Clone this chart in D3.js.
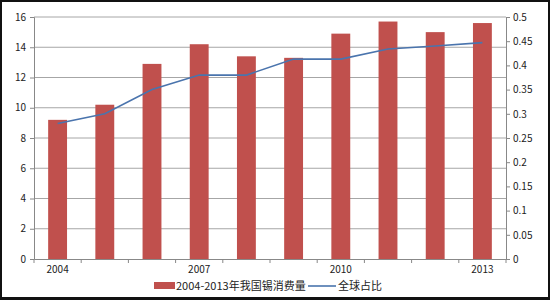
<!DOCTYPE html>
<html>
<head>
<meta charset="utf-8">
<script src="https://cdn.jsdelivr.net/npm/d3@7"></script>
<style>
  body { margin: 0; background: #fff; }
  text { font-family: "Noto Sans CJK SC", "DejaVu Sans", sans-serif; fill: #222; }
</style>
</head>
<body>
<script>
let years = ['2004', '2005', '2006', '2007', '2008', '2009', '2010', '2011', '2012', '2013'];
let consumption = [9.2, 10.2, 12.9, 14.2, 13.4, 13.3, 14.9, 15.7, 15.0, 15.6];
let share = [0.28, 0.30, 0.35, 0.38, 0.38, 0.413, 0.413, 0.434, 0.44, 0.447];
let leftTicks = [0, 2, 4, 6, 8, 10, 12, 14, 16];
let rightTicks = [0, 0.05, 0.1, 0.15, 0.2, 0.25, 0.3, 0.35, 0.4, 0.45, 0.5];
let xLabels = ['2004', '2007', '2010', '2013'];
let barName = '2004-2013年我国锡消费量';
let lineName = '全球占比';

let width = 550;
let height = 300;
let margin = {left: 34, right: 44, top: 17, bottom: 41};

let svg = d3.select('body').append('svg')
    .attr('width', width)
    .attr('height', height);

// frame
svg.append('rect')
    .attr('x', 1).attr('y', 1)
    .attr('width', width - 2).attr('height', height - 2.5)
    .attr('fill', '#fff')
    .attr('stroke', '#111')
    .attr('stroke-width', 2);
svg.append('line')
    .attr('x1', 0).attr('x2', width)
    .attr('y1', height - 1.5).attr('y2', height - 1.5)
    .attr('stroke', '#111')
    .attr('stroke-width', 3);

let x = d3.scaleBand()
    .domain(years)
    .range([margin.left, width - margin.right])
    .paddingInner(0.6)
    .paddingOuter(0.3);

let yLeft = d3.scaleLinear()
    .domain([0, 16])
    .range([height - margin.bottom, margin.top]);

let yRight = d3.scaleLinear()
    .domain([0, 0.5])
    .range([height - margin.bottom, margin.top]);

// gridlines
svg.selectAll('.grid')
    .data(leftTicks.slice(1))
    .join('line')
    .attr('class', 'grid')
    .attr('x1', margin.left)
    .attr('x2', width - margin.right)
    .attr('y1', d => yLeft(d))
    .attr('y2', d => yLeft(d))
    .attr('stroke', '#a6a6a6')
    .attr('stroke-width', 1);

// bars
svg.selectAll('.bar')
    .data(years)
    .join('rect')
    .attr('class', 'bar')
    .attr('x', d => x(d))
    .attr('width', x.bandwidth())
    .attr('y', (d, i) => yLeft(consumption[i]))
    .attr('height', (d, i) => yLeft(0) - yLeft(consumption[i]))
    .attr('fill', '#c0504d');

// line
let line = d3.line()
    .x((d, i) => x(years[i]) + x.bandwidth() / 2)
    .y(d => yRight(d));

svg.append('path')
    .datum(share)
    .attr('d', line)
    .attr('fill', 'none')
    .attr('stroke', '#4a74ad')
    .attr('stroke-width', 1.6);

// left axis
let leftAxis = svg.append('g')
    .attr('transform', `translate(${margin.left},0)`)
    .call(d3.axisLeft(yLeft).tickValues(leftTicks).tickSize(4).tickPadding(4));

// right axis
let rightAxis = svg.append('g')
    .attr('transform', `translate(${width - margin.right},0)`)
    .call(d3.axisRight(yRight).tickValues(rightTicks).tickSize(4).tickPadding(3)
        .tickFormat(d => d3.format('~g')(d)));

// bottom axis
let step = x.step();
let bottomAxis = svg.append('g')
    .attr('transform', `translate(0,${height - margin.bottom})`)
    .call(d3.axisBottom(x).tickSize(0).tickPadding(7)
        .tickFormat(d => xLabels.includes(d) ? d : ''));

bottomAxis.selectAll('.catTick')
    .data(d3.range(years.length + 1))
    .join('line')
    .attr('class', 'catTick')
    .attr('x1', i => margin.left + i * step)
    .attr('x2', i => margin.left + i * step)
    .attr('y1', 0)
    .attr('y2', 4)
    .attr('stroke', '#888');

[leftAxis, rightAxis, bottomAxis].forEach(g => {
    g.selectAll('.domain').attr('stroke', '#888');
    g.selectAll('.tick line').attr('stroke', '#888');
    g.selectAll('text')
        .style('font-family', '"Noto Sans CJK SC", "DejaVu Sans", sans-serif')
        .style('font-size', '10px')
        .attr('fill', '#222');
});

// legend
let legend = svg.append('g').attr('transform', 'translate(154,286)');
legend.append('rect')
    .attr('x', 0).attr('y', -4)
    .attr('width', 21).attr('height', 7)
    .attr('fill', '#c0504d');
legend.append('text')
    .attr('x', 22).attr('y', 0)
    .attr('dy', '0.35em')
    .style('font-size', '11px')
    .text(barName);
legend.append('line')
    .attr('x1', 154).attr('x2', 182)
    .attr('y1', 0).attr('y2', 0)
    .attr('stroke', '#4a74ad')
    .attr('stroke-width', 1.6);
legend.append('text')
    .attr('x', 184).attr('y', 0)
    .attr('dy', '0.35em')
    .style('font-size', '11px')
    .text(lineName);
</script>
</body>
</html>
